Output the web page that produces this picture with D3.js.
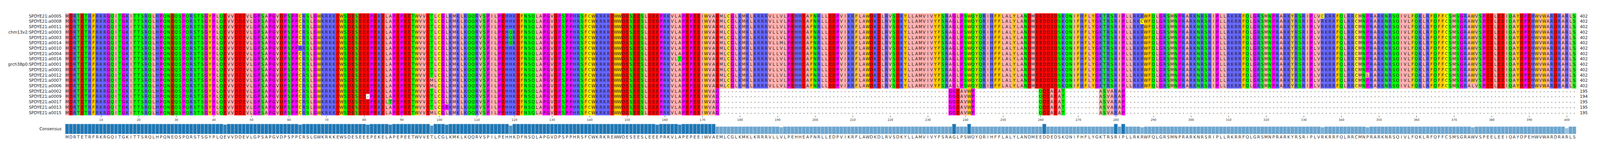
<!DOCTYPE html>
<html><head><meta charset="utf-8">
<script src="https://cdn.jsdelivr.net/npm/d3@7"></script>
<style>html,body{margin:0;padding:0;background:#fff;overflow:hidden;width:100%;height:100%}svg{display:block}text{font-family:"DejaVu Sans",sans-serif}</style>
</head><body><svg id="c" width="100%" height="100%" viewBox="0 0 4292 409" preserveAspectRatio="xMinYMin meet"></svg>
<script>
const consensusSegments = [
 "MDRTETRFRKRGQITGKITTSRQLHPQNEQSPQRSTSGYPLQEVVDDEVL",
 "GPSAPGVDPSPPCRSLGWKRKKEWSDESEEEPEKELAPEPEETWVVETLCG",
 "LKMKLKQQRVSPILPEHHKDFNSQLAPGVDPSPPHRSFCWKRKREWWDESE",
 "ESLEEEPRKVLAPEPEEIWVAEMLCGLKMKLKRRRVLLVLPEHHEAFNRL",
 "LEDPVIKRFLAWDKDLRVS",
 "DKYLLAMVIVYFSRAGLPSWQYQRIHFFLALYLANDMEEDDEDSKQNIF",
 "HFLYGKTRSRIPLLRKRWFQLGRSMNPRARKNRSRIPLLRKRRFQLGRSMN",
 "PRARKYRSRIPLVRKRRFQLRRCMNPRARKNRSQIVLFQKLRFQFFCS",
 "MSGRAWVSPEELEEIQAYDPEHWVWARDRARLS"
];
const names = ["SPDYE21:a0005","SPDYE21:a0008","SPDYE21:a0011","chm13v2:SPDYE21:a0003","SPDYE21:a0003","SPDYE21:a0014","SPDYE21:a0010","SPDYE21:a0004","SPDYE21:a0016","grch38p0:SPDYE21:a0001","SPDYE21:a0001","SPDYE21:a0012","SPDYE21:a0007","SPDYE21:a0006","SPDYE21:a0002","SPDYE21:a0009","SPDYE21:a0017","SPDYE21:a0013","SPDYE21:a0015"];
const lengths = [402,402,402,402,402,402,402,402,402,402,402,402,402,402,195,194,195,195,195];
const shortRows = [14,15,16,17,18];
const shortEnd = {col:174, letter:"G"};
const shortInserts = [{start:236, seq:"GGDAVWP"},{start:260, seq:"QDEAEAT"},{start:276, seq:"ASVARAP"}];
const variants = [[5,191,"M"],[8,164,"T"],[9,400,"H"],[10,400,"H"],[11,400,"H"],[13,375,"L"],
 [15,81,"-"],[16,87,"T"],[17,102,"P"],[12,98,"M"],[13,98,"M"],[18,98,"M"],
 [2,43,"D"],[1,158,"D"],[3,119,"Q"],[4,119,"Q"],[5,119,"Q"],[6,63,"R"],
 [1,287,"C"],[0,335,"C"],[11,347,"L"]];
const tickLabels = d3.range(10,401,10);

const consensus = consensusSegments.join("").split("");
const N = consensus.length;
const seqs = names.map((n,i)=>{
  let s = consensus.slice();
  if (shortRows.includes(i)) {
    s = s.map((c,j)=> j+1<shortEnd.col ? c : "-");
    s[shortEnd.col-1] = shortEnd.letter;
    shortInserts.forEach(ins=>ins.seq.split("").forEach((c,k)=>s[ins.start-1+k]=c));
  }
  return s;
});
variants.forEach(([r,c,l])=>seqs[r][c-1]=l);

const colors = {A:"#ffafaf",I:"#ffafaf",L:"#ffafaf",M:"#ffafaf",V:"#ffafaf",
 D:"#ff0000",E:"#ff0000",R:"#6464ff",K:"#6464ff",H:"#6464ff",
 T:"#00ff00",S:"#00ff00",N:"#00ff00",Q:"#00ff00",F:"#ffc800",W:"#ffc800",Y:"#ffc800",
 G:"#ff00ff",P:"#ff00ff",C:"#ffff00"};

const svg = d3.select("#c");
const cols = d3.range(1,N+1);
const x = d3.scaleBand().domain(cols).range([175,4228]);
const y = d3.scaleBand().domain(d3.range(names.length)).range([35.7,308.7]);

const cells = [];
seqs.forEach((s,r)=>s.forEach((c,j)=>cells.push({r,col:j+1,c})));
const g = svg.append("g");
g.selectAll("rect").data(cells.filter(d=>d.c!=="-")).join("rect")
 .attr("x",d=>x(d.col)).attr("y",d=>y(d.r)).attr("width",x.bandwidth()+0.3).attr("height",y.bandwidth()+0.3)
 .attr("fill",d=>colors[d.c]||"#fff");
g.selectAll("text").data(cells).join("text")
 .attr("x",d=>x(d.col)+x.bandwidth()/2).attr("y",d=>y(d.r)+y.bandwidth()/2+4)
 .attr("text-anchor","middle").attr("font-size",11).attr("fill","#222").text(d=>d.c);

svg.append("g").selectAll("text").data(names).join("text")
 .attr("x",165).attr("y",(d,i)=>y(i)+y.bandwidth()/2+4).attr("text-anchor","end")
 .attr("font-size",11).attr("fill","#222").text(d=>d);
svg.append("g").selectAll("text").data(lengths).join("text")
 .attr("x",4238).attr("y",(d,i)=>y(i)+y.bandwidth()/2+4).attr("font-size",11).attr("fill","#222").text(d=>d);

const axis = d3.axisBottom(d3.scaleLinear().domain([1,N]).range([x(1)+x.bandwidth()/2, x(N)+x.bandwidth()/2]))
 .tickValues(tickLabels).tickSize(4).tickFormat(d3.format("d"));
const ax = svg.append("g").attr("transform","translate(0,310)").call(axis);
ax.select(".domain").remove();
ax.selectAll("text").attr("font-size",8).attr("fill","#333").attr("dy","0.9em");
ax.selectAll("line").attr("stroke","#333");

const cons = consensus.map((c,j)=>({col:j+1,c,f:seqs.filter(s=>s[j]===c).length/seqs.length}));
const h = d3.scaleLinear().domain([0,1]).range([0,27]);
const col = d3.scaleLinear().domain([0.5,1]).range(["#b3d1e8","#1f77b4"]).clamp(true);
svg.append("g").selectAll("rect").data(cons).join("rect")
 .attr("x",d=>x(d.col)).attr("y",d=>359-h(d.f)).attr("width",x.bandwidth()).attr("height",d=>h(d.f))
 .attr("fill",d=>col(d.f)).attr("stroke","#d6e6f2").attr("stroke-width",0.8);
svg.append("g").selectAll("text").data(cons).join("text")
 .attr("x",d=>x(d.col)+x.bandwidth()/2).attr("y",371).attr("text-anchor","middle")
 .attr("font-size",11).attr("fill","#333").text(d=>d.c);
svg.append("text").attr("x",165).attr("y",349).attr("text-anchor","end").attr("font-size",11).attr("fill","#222").text("Consensus");
</script></body></html>
